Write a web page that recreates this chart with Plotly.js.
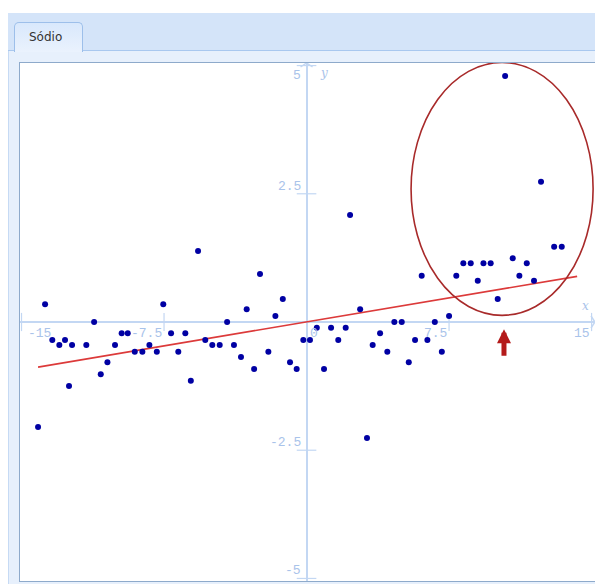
<!DOCTYPE html>
<html><head><meta charset="utf-8">
<script src="https://cdn.plot.ly/plotly-3.0.1.min.js"></script>
<style>
html,body{margin:0;padding:0;width:595px;height:584px;overflow:hidden;background:#fff;}
#bar{position:absolute;left:8px;top:13px;width:587px;height:37px;background:#d4e4f9;border-bottom:1px solid #a9c8ef;}
#frame{position:absolute;left:8px;top:51px;width:587px;height:533px;background:#e7f0fc;border-left:1px solid #c6daf4;}
#tab{position:absolute;left:14px;top:22px;width:67px;height:29px;background:linear-gradient(#d9e8fc,#eaf2fd);border:1px solid #9dbfea;border-bottom:none;border-radius:5px 5px 0 0;font:12px "DejaVu Sans",sans-serif;color:#333;}
#tab span{position:absolute;left:14px;top:7px;line-height:14px;}
#border{position:absolute;left:19px;top:62px;width:577px;height:518px;background:#fff;border-left:1px solid #8eaacb;border-top:1px solid #8eaacb;border-bottom:1px solid #8eaacb;}
#chart{position:absolute;left:20px;top:63px;width:575px;height:518px;}
</style></head>
<body>
<div id="bar"></div>
<div id="frame"></div>
<div id="tab"><span>Sódio</span></div>
<div id="border"></div>
<div id="chart"></div>
<script>
// ---- data ----
const xRange = [-15.08, 15.18];
const yRange = [-5.05, 5.05];
const xTicks = [-15, -7.5, 0, 7.5, 15];
const xTickText = ['-15', '-7.5', '0', '7.5', '15'];
const yTicks = [-5, -2.5, 2.5, 5];
const yTickText = ['-5', '-2.5', '2.5', '5'];

const sodioX = [
  -13.76, -11.18, -7.54, -13.38, -13.01, -12.71, -12.34, -11.59, -9.73, -9.41,
  -10.08, -12.50, -10.83, -10.48, -9.04, -8.64, -8.27, -7.88, -7.13, -6.38,
  -6.75, -6.09, -5.33, -4.96, -4.57, -4.18, -3.82, -3.45, -3.15, -2.76,
  -2.01, -1.64, -1.25, -0.87, -0.52, -5.71, -2.45, -14.13,
  2.29, 3.18, 2.82, 0.54, 1.29, 2.06, 4.62, 5.01, 6.75, -0.17,
  0.18, 1.67, 3.87, 3.48, 4.25, 5.71, 6.36, 7.12, 5.38, 0.92,
  7.50, 6.06,
  10.45, 12.34, 13.03, 13.43, 8.25, 8.64, 9.31, 9.69, 10.85, 11.59,
  7.88, 11.20, 9.01, 11.97, 10.06
];
const sodioY = [
  0.345, 0.0, 0.345, -0.351, -0.448, -0.351, -0.448, -0.448, -0.220, -0.220,
  -0.448, -1.248, -1.019, -0.786, -0.579, -0.579, -0.448, -0.579, -0.220, -0.220,
  -0.579, -1.144, -0.351, -0.448, -0.448, 0.0, -0.448, -0.682, 0.248, -0.916,
  -0.579, 0.117, 0.448, -0.786, -0.916, 1.384, 0.936, -2.047,
  2.086, -2.261, 0.248, -0.111, -0.111, -0.111, 0.0, 0.0, 0.0, -0.351,
  -0.351, -0.351, -0.220, -0.448, -0.579, -0.351, -0.351, -0.579, -0.786, -0.916,
  0.117, 0.903,
  4.795, 2.735, 1.468, 1.468, 1.144, 1.144, 1.144, 1.144, 1.242, 1.144,
  0.903, 0.903, 0.805, 0.805, 0.448
];
const fitX = [-14.13, 14.24];
const fitY = [-0.88, 0.89];
const highlightX = [5.50, 15.08];
const highlightY = [0.13, 5.06];
const arrowAt = [10.39, -0.14];

// ---- styles ----
const axisColor = '#c3d7f3';
const labelColor = '#a9c3ea';
const monoFont = {family: 'Liberation Mono, DejaVu Sans Mono, monospace', size: 13, color: labelColor};

const traces = [
  { // x tick marks
    x: xTicks.filter(t => t !== 0), y: xTicks.filter(t => t !== 0).map(() => 0),
    mode: 'markers', type: 'scatter', hoverinfo: 'skip',
    marker: {symbol: 'line-ns', size: 13, line: {width: 1.2, color: axisColor}}
  },
  { // y tick marks
    x: yTicks.map(() => 0), y: yTicks,
    mode: 'markers', type: 'scatter', hoverinfo: 'skip',
    marker: {symbol: 'line-ew', size: 14, line: {width: 1.2, color: axisColor}}
  },
  { // axis arrow heads
    x: [0, xRange[1]], y: [yRange[1], 0],
    mode: 'markers', type: 'scatter', hoverinfo: 'skip',
    marker: {symbol: ['y-up', 'y-right'], size: 10, line: {width: 1.5, color: axisColor}}
  },
  { // regression line
    x: fitX, y: fitY, mode: 'lines', type: 'scatter',
    line: {color: '#dc3a3a', width: 1.6}
  },
  { // data points
    x: sodioX, y: sodioY, mode: 'markers', type: 'scatter',
    marker: {color: '#0000a3', size: 6}
  }
];

const annotations = [];
xTicks.forEach((t, i) => {
  const left = (t === xTicks[0] || t === 0);
  annotations.push({
    x: t, y: 0, xref: 'x', yref: 'y', text: xTickText[i], showarrow: false,
    xanchor: left ? 'left' : 'right', yanchor: 'top',
    xshift: t === xTicks[0] ? 4 : (t === 0 ? 1 : 0), yshift: -2, font: monoFont
  });
});
yTicks.forEach((t, i) => {
  const top = t === yTicks[yTicks.length - 1];
  annotations.push({
    x: 0, y: t, xref: 'x', yref: 'y', text: yTickText[i], showarrow: false,
    xanchor: 'right', yanchor: top ? 'top' : 'bottom', xshift: -4, yshift: top ? 0 : -2, font: monoFont
  });
});
annotations.push({x: 0, y: yRange[1], text: '<i>y</i>', showarrow: false, xanchor: 'left', yanchor: 'top',
  xshift: 11, yshift: -1, font: {family: 'DejaVu Serif, serif', size: 12, color: labelColor}});
annotations.push({x: xRange[1], y: 0, text: '<i>x</i>', showarrow: false, xanchor: 'right', yanchor: 'bottom',
  xshift: -4, yshift: 7, font: {family: 'DejaVu Serif, serif', size: 12, color: labelColor}});
annotations.push({x: arrowAt[0], y: arrowAt[1], text: '', showarrow: true, ax: 0, ay: 28,
  arrowhead: 2, arrowsize: 0.56, arrowwidth: 5, arrowcolor: '#b41a1a', standoff: 0});

const axisBase = {showgrid: false, zeroline: true, zerolinecolor: axisColor, zerolinewidth: 2,
  showticklabels: false, ticks: '', showline: false, fixedrange: true};

const layout = {
  width: 575, height: 518,
  margin: {l: 0, r: 0, t: 0, b: 0},
  paper_bgcolor: 'rgba(0,0,0,0)', plot_bgcolor: '#ffffff',
  showlegend: false,
  xaxis: Object.assign({range: xRange}, axisBase),
  yaxis: Object.assign({range: yRange}, axisBase),
  shapes: [{type: 'circle', xref: 'x', yref: 'y', x0: highlightX[0], x1: highlightX[1],
    y0: highlightY[0], y1: highlightY[1], line: {color: '#a82a2a', width: 1.6}}],
  annotations: annotations
};

Plotly.newPlot('chart', traces, layout, {displayModeBar: false, staticPlot: true});
</script>
</body></html>
